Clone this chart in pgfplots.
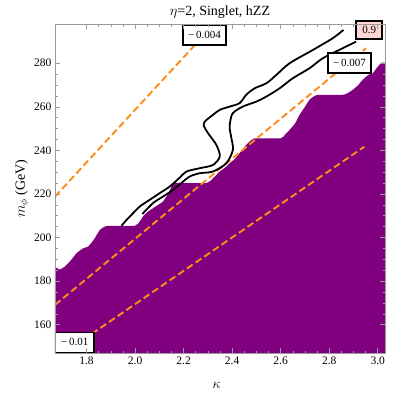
\documentclass[border=0pt]{standalone}
\usepackage{pgfplots}
\pgfplotsset{compat=1.18}
\usepackage{fontspec}
\setmainfont{Liberation Serif}
\definecolor{cpurple}{rgb}{0.5,0,0.5}
\definecolor{corange}{rgb}{1,0.55,0.1}
\definecolor{cframe}{HTML}{9A9A9A}
\definecolor{cpink}{HTML}{FFD6D6}
\begin{document}
\begin{tikzpicture}
\useasboundingbox (-55pt,-39pt) rectangle (360pt,353pt);
\begin{axis}[
  at={(0,0)}, anchor=south west,
  scale only axis, width=330pt, height=329pt,
  xmin=1.67, xmax=3.03, ymin=147, ymax=298,
  xtick={1.8,2.0,...,3.0},
  xticklabels={1.8,2.0,2.2,2.4,2.6,2.8,3.0},
  ytick={160,180,...,280},
  minor x tick num=3, minor y tick num=3,
  tick align=inside,
  major tick length=5pt, minor tick length=2.5pt,
  tick style={cframe, line width=0.5pt},
  axis line style={cframe, line width=0.8pt},
  /pgf/number format/assume math mode=true,
  tick label style={font=\fontsize{11.5}{13}\selectfont},
  xlabel={$\kappa$}, ylabel={$m_{\phi}$ (GeV)},
  label style={font=\fontsize{14}{16}\selectfont},
  xlabel style={at={(axis description cs:0.49,-0.097)}, anchor=center},
  ylabel style={at={(axis description cs:-0.1,0.5)}, anchor=center},
  clip mode=individual,
  axis on top,
]
% purple excluded region
\addplot[fill=cpurple, draw=none, smooth, tension=0.3] coordinates {
  (1.66,140) (1.66,184.4) (1.69,185.3) (1.711,186.7) (1.735,189.5)
  (1.759,192.8) (1.785,195) (1.807,195.9) (1.83,199) (1.855,203.5)
  (1.875,205) (1.896,205.4) (1.999,205.4) (2.019,207.3) (2.035,210)
  (2.053,211.9) (2.075,213.5) (2.095,215.0) (2.115,216.5) (2.129,218.8)
  (2.145,222) (2.163,225.0) (2.294,225.0) (2.321,227.2) (2.349,230.3)
  (2.37,232) (2.390,234.1) (2.41,236) (2.431,238.7) (2.45,241.5)
  (2.465,243.3) (2.493,245.5) (2.60,245.5) (2.62,247.5) (2.637,249.4)
  (2.66,252.5) (2.678,256.3) (2.70,260) (2.719,263.2) (2.74,265)
  (2.760,265.5) (2.856,265.5) (2.875,266.2) (2.897,267.8) (2.92,270)
  (2.938,272.4) (2.96,274.5) (2.979,275.4) (3.04,275.4) (3.04,140)
} -- cycle;
% orange dashed contours
\addplot[corange, line width=1.9pt, dash pattern=on 7pt off 3.5pt] coordinates {
  (1.67,218.8) (2.30,294.8)
};
\addplot[corange, line width=1.9pt, dash pattern=on 7pt off 3.5pt] coordinates {
  (1.67,169.1) (2.952,286.9)
};
\addplot[corange, line width=1.9pt, dash pattern=on 7pt off 3.5pt] coordinates {
  (1.75,150.3) (2.945,241.7)
};
% black 0.9 contour
\addplot[black, line width=1.8pt, smooth, tension=0.5] coordinates {
  (1.944,205.4) (1.965,208.1) (1.992,211.2) (2.019,214.2) (2.060,217.3)
  (2.102,220.4) (2.143,223.4) (2.184,227.5) (2.212,230.3) (2.266,231.8)
  (2.321,233.3) (2.349,237.2) (2.335,242.5) (2.30,248) (2.283,251.5)
  (2.290,253.5) (2.321,256.3) (2.349,258.6) (2.390,260.1) (2.431,261.7)
  (2.458,265.5) (2.493,268.5) (2.541,270.8) (2.582,274.6) (2.637,280.0)
  (2.733,286.1) (2.815,291.5) (2.859,295.3)
};
\addplot[black, line width=1.8pt, smooth, tension=0.5] coordinates {
  (2.03,210.8) (2.074,215.8) (2.115,218.8) (2.157,221.9) (2.198,225.7)
  (2.225,228.0) (2.266,229.5) (2.321,230.3) (2.376,234.1) (2.403,240.2)
  (2.397,245.6) (2.390,250) (2.392,253.2) (2.403,257.1) (2.444,260.1)
  (2.500,262.4) (2.541,264.7) (2.596,268.5) (2.650,273.1) (2.719,277.7)
  (2.774,282.3) (2.856,286.9) (2.911,289.9)
};
% contour labels
\tikzset{clab/.style={draw=black, line width=1.5pt, fill=white,
  font=\fontsize{11}{12}\selectfont, inner sep=3pt,
  minimum width=43pt, minimum height=20pt}}
\node[clab] at (axis cs:2.286,293) {−\,0.004};
\node[clab] at (axis cs:2.884,280.0) {−\,0.007};
\node[clab, anchor=south west, minimum width=38pt] at (axis cs:1.67,147) {−\,0.01};
\node[clab, fill=cpink, minimum width=26pt, minimum height=18pt] at (axis cs:2.965,295.3) {0.9};
% title
\node[font=\fontsize{14}{16}\selectfont, anchor=center]
  at (rel axis cs:0.5,1.036) {$\eta$=2, Singlet, hZZ};
\end{axis}
\end{tikzpicture}
\end{document}
